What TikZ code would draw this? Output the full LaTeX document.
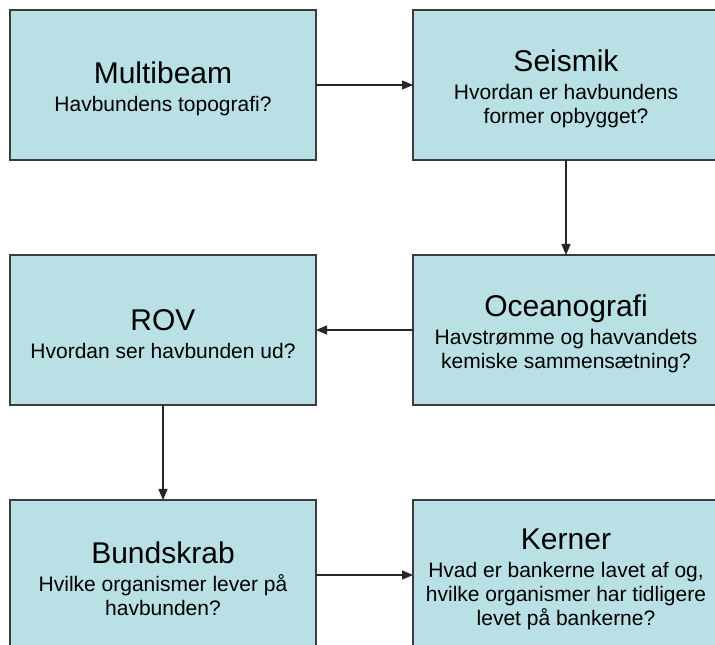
\documentclass[tikz,border=0pt]{standalone}
\usepackage{fontspec}
\setmainfont{Liberation Sans}
\usetikzlibrary{positioning,arrows.meta}
\definecolor{boxfill}{RGB}{185,224,228}
\definecolor{boxline}{RGB}{60,60,60}

\begin{document}
\begin{tikzpicture}[x=1pt, y=1pt,
    infobox/.style={draw=boxline, line width=1.5pt, fill=boxfill,
      minimum width=306pt, minimum height=150pt, inner sep=0pt, outer sep=0pt,
      align=center, font=\fontsize{21}{23.8}\selectfont},
    flow/.style={-{Triangle[length=11pt,width=9pt]}, line width=1.3pt, draw=black!85}]

  % frame
  \useasboundingbox (0,0) rectangle (715,645);
  \clip (0,0) rectangle (715,645);

  % titleline{title}
  \def\titleline#1{{\fontsize{30}{32}\selectfont\rule{0pt}{29.5pt}#1}\\[4pt]}

  % Boxes
  \node[infobox] (multibeam) at (163,560) {\titleline{Multibeam}Havbundens topografi?};
  \node[infobox, right=97pt of multibeam] (seismik)
    {\titleline{Seismik}Hvordan er havbundens\\former opbygget?};
  \node[infobox, below=95pt of seismik] (oceanografi)
    {\titleline{Oceanografi}Havstrømme og havvandets\\kemiske sammensætning?};
  \node[infobox, below=95pt of multibeam] (rov)
    {\titleline{ROV}Hvordan ser havbunden ud?};
  \node[infobox, below=95pt of rov] (bundskrab)
    {\titleline{Bundskrab}Hvilke organismer lever på\\havbunden?};
  \node[infobox, right=97pt of bundskrab] (kerner)
    {\titleline{Kerner}Hvad er bankerne lavet af og,\\hvilke organismer har tidligere\\levet på bankerne?};

  % Arrows
  \draw[flow] (multibeam) -- (seismik);
  \draw[flow] (seismik) -- (oceanografi);
  \draw[flow] (oceanografi) -- (rov);
  \draw[flow] (rov) -- (bundskrab);
  \draw[flow] (bundskrab) -- (kerner);

\end{tikzpicture}
\end{document}
